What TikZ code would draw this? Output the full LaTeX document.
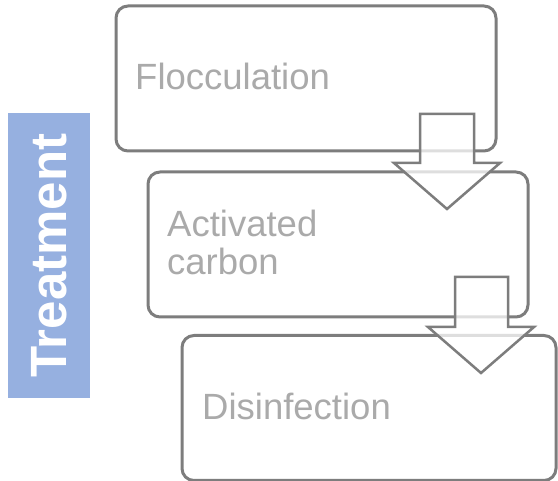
\documentclass[tikz,border=0pt]{standalone}
\usepackage{fontspec}
\setmainfont{Liberation Sans}
\definecolor{sideblue}{RGB}{150,176,224}
\definecolor{edgegray}{RGB}{125,125,125}
\definecolor{textgray}{RGB}{170,170,170}

\begin{document}
\begin{tikzpicture}[x=1pt,y=-1pt]

      \useasboundingbox (0,0) rectangle (558,481);

      % Side label
      \node[fill=sideblue,rotate=90,minimum width=285,minimum height=82,inner sep=0,
            text=white,font=\bfseries\fontsize{51}{51}\selectfont] (side) at (49,255.5) {Treatment};

      % Boxes
      \begin{scope}[every node/.style={rectangle,rounded corners=12,draw=edgegray,line width=3,fill=white,
                                       minimum height=145,inner sep=0}]
        \node[minimum width=380] (floc) at (306,78.5) {};
        \node[minimum width=380] (carb) at (338,244.5) {};
        \node[minimum width=374] (disi) at (369,408) {};
      \end{scope}

      % Labels
      \begin{scope}[every node/.style={anchor=base west,inner sep=0,align=left,text=textgray,
                                       font=\fontsize{36.5}{38}\selectfont}]
        \node (t1) at (135,90) {Flocculation};
        \node (t2) at (167,275) {Activated\\carbon};
        \node (t3) at (202,420) {Disinfection};
      \end{scope}

      % Arrows
      \begin{scope}[every path/.style={draw=edgegray,line width=2.5,fill=white,fill opacity=0.75}]
        \path (420,114) -- (474,114) -- (474,163) -- (500,163) -- (447,209)
              -- (394,163) -- (420,163) -- cycle;
        \path (455,277) -- (508,277) -- (508,327) -- (534,327) -- (481,373)
              -- (428,327) -- (455,327) -- cycle;
      \end{scope}

    \end{tikzpicture}
\end{document}
